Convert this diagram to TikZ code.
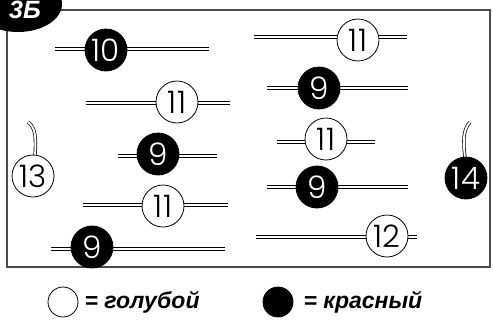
\documentclass[tikz,border=0pt]{standalone}
\usepackage{fontspec}
\setmainfont{Liberation Sans}
\newfontfamily\beadfont{Poppins Light}
\usetikzlibrary{positioning}

\begin{document}
\begin{tikzpicture}[x=1pt, y=-1pt,
  bead/.style={circle, draw=black, line width=0.8pt, minimum size=42pt, inner sep=0pt, font=\beadfont\fontsize{31}{31}\selectfont},
  redbead/.style={bead, fill=black, text=white},
  bluebead/.style={bead, fill=white, text=black},
  rod/.style={draw=black, line width=0.7pt, double=white, double distance=1.9pt},
  frame/.style={draw=black!70, line width=1.2pt},
  keydot/.style={circle, draw=black, line width=0.8pt, minimum size=30pt, inner sep=0pt},
  note/.style={font=\bfseries\itshape\fontsize{23}{23}\selectfont, anchor=west, inner sep=0pt}
]
\useasboundingbox (0,0) rectangle (493,327);
\clip (0,0) rectangle (493,327);
\fill[white] (0,0) rectangle (493,327);

% frame and badge
\draw[frame] (7,10) rectangle (490,267);
\fill[black] (18,4) ellipse [x radius=44, y radius=28];
\node[font=\bfseries\itshape\fontsize{25}{25}\selectfont, text=white, inner sep=0pt] (badge) at (25,10) {3Б};

% rods
\draw[rod] (55,49) -- (209,49);
\draw[rod] (86,103) -- (230,103);
\draw[rod] (118,156) -- (217,156);
\draw[rod] (83,205) -- (228,205);
\draw[rod] (51,249) -- (225,249);
\draw[rod] (254,37) -- (407,37);
\draw[rod] (267,88) -- (408,88);
\draw[rod] (277,142) -- (375,142);
\draw[rod] (267,187) -- (408,187);
\draw[rod] (256,237) -- (417,237);

% hooks
\draw[rod] (28,122) .. controls (36,128) and (36,138) .. (35,156);
\draw[rod] (470,122) .. controls (463,130) and (463,140) .. (465,158);

% beads
\node[redbead] (b10) at (106,50) {10};
\node[bluebead] (b11a) at (177,102) {11};
\node[redbead] (b9a) at (158,154) {9};
\node[bluebead] (b11b) at (163,206) {11};
\node[redbead] (b9b) at (92,247) {9};
\node[bluebead] (b11c) at (358,40) {11};
\node[redbead] (b9c) at (319,88) {9};
\node[bluebead] (b11d) at (326,139) {11};
\node[redbead] (b9d) at (317,187) {9};
\node[bluebead] (b12) at (387,236) {12};
\node[bluebead] (b13) at (33,176) {13};
\node[redbead] (b14) at (466,178) {14};

% legend
\node[keydot, fill=white] (keyblue) at (63,302) {};
\node[note, right=6pt of keyblue] (txtblue) {= голубой};
\node[keydot, fill=black] (keyred) at (278,302) {};
\node[note, right=10pt of keyred] (txtred) {= красный};
\end{tikzpicture}
\end{document}
